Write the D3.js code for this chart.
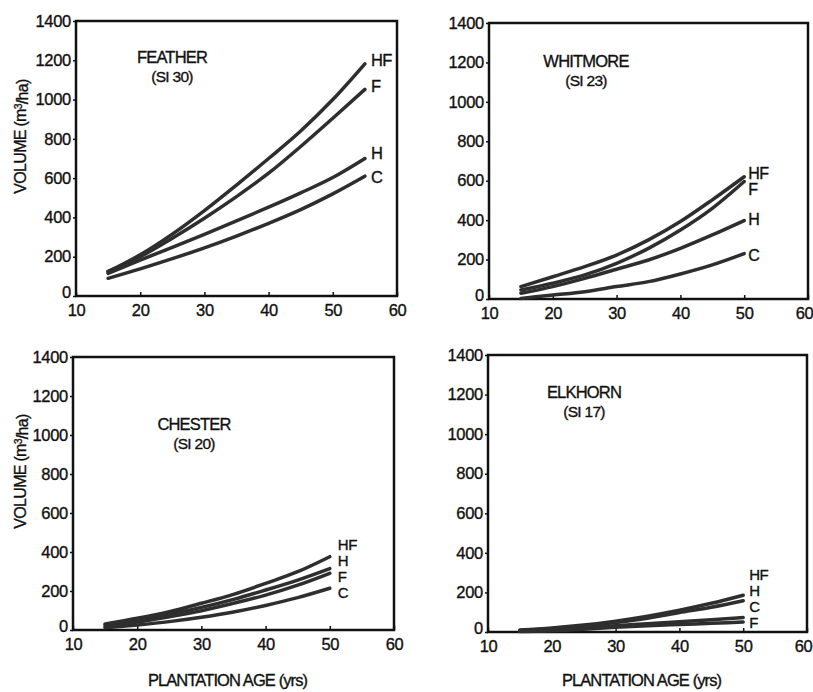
<!DOCTYPE html>
<html><head><meta charset="utf-8">
<script src="https://cdn.jsdelivr.net/npm/d3@7"></script>
<style>
body{margin:0;background:#fff;}
text{font-family:"Liberation Sans",Arial,Helvetica,sans-serif;fill:#111;stroke:#111;stroke-width:0.35px;}
</style></head><body>
<svg id="c" width="813" height="692"></svg>
<script>
// ---- data ----
const ages = [15,20,25,30,35,40,45,50];
const feathAges = [15,20,25,30,35,40,45,50,55];
const yTicks = [0,200,400,600,800,1000,1200,1400];
const xTicks = [10,20,30,40,50,60];

const featherHF = [124,210,315,435,565,700,840,1000,1182];
const featherF  = [125,200,294,396,506,625,761,905,1052];
const featherH  = [115,183,248,314,382,452,525,603,700];
const featherC  = [90,138,190,245,305,370,440,520,610];

const whitmoreHF = [63,113,164,223,300,393,503,620];
const whitmoreF  = [46,80,122,181,257,350,460,596];
const whitmoreH  = [29,63,105,151,198,257,325,398];
const whitmoreC  = [3,20,37,63,88,127,173,230];

const chesterHF = [31,60,94,137,183,239,299,376];
const chesterH  = [26,51,82,116,157,205,256,315];
const chesterF  = [17,41,68,99,137,179,230,291];
const chesterC  = [12,26,43,65,92,126,166,214];

const elkhornHF = [10,20,35,55,80,110,145,186];
const elkhornH  = [8,17,30,48,70,98,125,158];
const elkhornC  = [4,10,20,32,42,52,62,73];
const elkhornF  = [2,6,14,24,32,38,44,50];

const panels = [
  {name:"FEATHER", si:"(SI 30)", x:feathAges,
   series:[["HF",featherHF],["F",featherF],["H",featherH],["C",featherC]]},
  {name:"WHITMORE", si:"(SI 23)", x:ages,
   series:[["HF",whitmoreHF],["F",whitmoreF],["H",whitmoreH],["C",whitmoreC]]},
  {name:"CHESTER", si:"(SI 20)", x:ages,
   series:[["HF",chesterHF],["H",chesterH],["F",chesterF],["C",chesterC]]},
  {name:"ELKHORN", si:"(SI 17)", x:ages,
   series:[["HF",elkhornHF],["H",elkhornH],["C",elkhornC],["F",elkhornF]]}
];

// ---- layout ----
const layout = [
  {l:76,r:397,t:21,b:296, tx:172,ty:63, lab:{mode:"end",dx:6,dy:[-4,-3,-5,1],fs:16.5}, ylab:true, xlab:false, edge:false},
  {l:489,r:808,t:23,b:299, tx:586,ty:67, lab:{mode:"end",dx:4,dy:[-4,8,-1,2],fs:16}, ylab:false, xlab:false, edge:true},
  {l:73,r:394,t:357,b:630, tx:194,ty:430, lab:{mode:"stack",dx:8,top:-12,gap:16,fs:15}, ylab:true, xlab:true, edge:false},
  {l:488,r:807,t:355,b:632, tx:584,ty:398, lab:{mode:"stack",dx:6,top:-21,gap:16,fs:15}, ylab:false, xlab:true, edge:true}
];

const svg = d3.select("#c");
const ink = "#2e2e2e";

panels.forEach((p,i)=>{
  const L = layout[i];
  const x = d3.scaleLinear().domain([10,60]).range([L.l,L.r]);
  const y = d3.scaleLinear().domain([0,1400]).range([L.b,L.t]);
  const g = svg.append("g");

  // frame
  g.append("rect").attr("x",L.l).attr("y",L.t).attr("width",L.r-L.l).attr("height",L.b-L.t)
    .attr("fill","none").attr("stroke","#111").attr("stroke-width",2.5);

  // y axis
  const ya = d3.axisLeft(y).tickValues(yTicks).tickSize(3).tickPadding(2).tickFormat(d3.format("d"));
  const yg = g.append("g").attr("transform",`translate(${L.l},0)`).call(ya);
  yg.select(".domain").remove();
  yg.selectAll("line").attr("stroke","#111").attr("stroke-width",1.5);
  yg.selectAll("text").attr("font-size",16.5).attr("letter-spacing","-0.3px")
    .style("font-family","'Liberation Sans',Arial,sans-serif").attr("fill","#111");
  yg.selectAll("text").filter(d=>d===0).attr("dy","0.1em");

  // x axis
  const xa = d3.axisBottom(x).tickValues(xTicks).tickSize(-4).tickPadding(8).tickFormat(d3.format("d"));
  const xg = g.append("g").attr("transform",`translate(0,${L.b})`).call(xa);
  xg.select(".domain").remove();
  xg.selectAll("line").attr("stroke","#111").attr("stroke-width",1.5);
  xg.selectAll("text").attr("font-size",16.5).attr("letter-spacing","-0.3px")
    .style("font-family","'Liberation Sans',Arial,sans-serif").attr("fill","#111");
  if (L.edge) xg.selectAll("text").filter(d=>d===60).attr("dx",-4);

  // curves
  const line = d3.line().x(d=>x(d[0])).y(d=>y(d[1])).curve(d3.curveMonotoneX);
  p.series.forEach(([nm,vals])=>{
    const pts = p.x.map((a,k)=>[a,vals[k]]);
    g.append("path").attr("d",line(pts)).attr("fill","none")
      .attr("stroke",ink).attr("stroke-width",3.5).attr("stroke-linecap","round");
  });

  // labels
  const lastX = p.x[p.x.length-1];
  p.series.forEach(([nm,vals],k)=>{
    let ly;
    if (L.lab.mode==="end") ly = y(vals[vals.length-1]) + L.lab.dy[k];
    else ly = y(p.series[0][1][vals.length-1]) + L.lab.top + k*L.lab.gap;
    g.append("text").attr("x",x(lastX)+L.lab.dx).attr("y",ly).attr("dy","0.36em")
      .attr("font-size",L.lab.fs).attr("letter-spacing","-0.5px").text(nm);
  });

  // title
  g.append("text").attr("x",L.tx).attr("y",L.ty).attr("text-anchor","middle")
    .attr("font-size",16.5).attr("letter-spacing","-0.8px").text(p.name);
  g.append("text").attr("x",L.tx).attr("y",L.ty+19).attr("text-anchor","middle")
    .attr("font-size",15.5).attr("letter-spacing","-0.7px").text(p.si);

  if (L.ylab) {
    const cy = (L.t+L.b)/2 - 22;
    const t = g.append("text").attr("transform",`translate(26,${cy}) rotate(-90)`)
      .attr("text-anchor","middle").attr("font-size",16).attr("letter-spacing","-0.7px");
    t.append("tspan").text("VOLUME (m");
    t.append("tspan").attr("dy","-0.4em").attr("font-size",10.5).text("3");
    t.append("tspan").attr("dy","0.4em").text("/ha)");
  }
  if (L.xlab) {
    g.append("text").attr("x",(L.l+L.r)/2 - 6).attr("y",686).attr("text-anchor","middle")
      .attr("font-size",16.5).attr("letter-spacing","-0.9px").text("PLANTATION AGE (yrs)");
  }
});
</script>
</body></html>
